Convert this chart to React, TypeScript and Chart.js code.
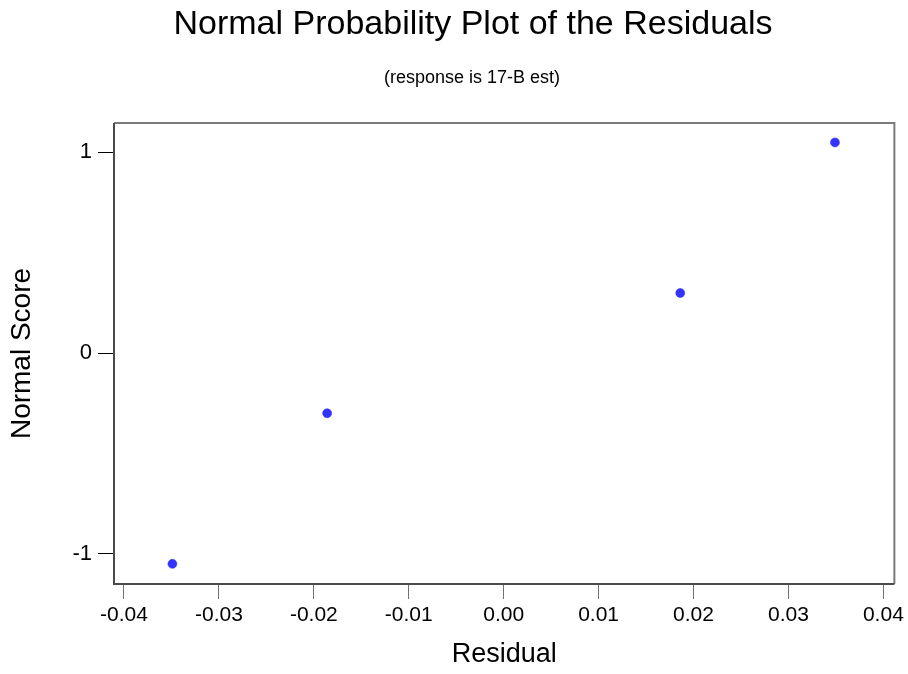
import React, { useEffect, useRef } from "react";
import { Chart, registerables } from "chart.js";

Chart.register(...registerables);

const residuals = [-0.0349, -0.0186, 0.0186, 0.0349];
const normalScores = [-1.0491, -0.2993, 0.2993, 1.0491];
const xTicks = [-0.04, -0.03, -0.02, -0.01, 0, 0.01, 0.02, 0.03, 0.04];
const yTicks = [-1, 0, 1];
const titleText = "Normal Probability Plot of the Residuals";
const subtitleText = "(response is 17-B est)";
const xTitle = "Residual";
const yTitle = "Normal Score";

const FONT = "'Liberation Sans', Arial, sans-serif";

const decorPlugin = {
  id: "decor",
  beforeDatasetsDraw(chart: any) {
    const { ctx, chartArea } = chart;
    const { left, right, top, bottom } = chartArea;
    ctx.save();
    ctx.lineWidth = 2;
    ctx.strokeStyle = "#7a7a7a";
    ctx.beginPath();
    ctx.moveTo(left, top);
    ctx.lineTo(right, top);
    ctx.lineTo(right, bottom);
    ctx.stroke();
    ctx.strokeStyle = "#4a4a4a";
    ctx.beginPath();
    ctx.moveTo(left, top);
    ctx.lineTo(left, bottom);
    ctx.lineTo(right, bottom);
    ctx.stroke();
    ctx.restore();
  },
  afterDraw(chart: any) {
    const { ctx } = chart;
    ctx.save();
    ctx.fillStyle = "#000";
    ctx.textAlign = "center";
    ctx.textBaseline = "alphabetic";
    ctx.font = `34px ${FONT}`;
    ctx.fillText(titleText, 473, 34);
    ctx.font = `18px ${FONT}`;
    ctx.fillText(subtitleText, 472, 83);
    ctx.restore();
  },
};

export default function App() {
  const ref = useRef<HTMLCanvasElement | null>(null);

  useEffect(() => {
    if (!ref.current) return;
    const chart = new Chart(ref.current, {
      type: "scatter",
      data: {
        datasets: [
          {
            data: residuals.map((r, i) => ({ x: r, y: normalScores[i] })),
            pointRadius: 4.5,
            pointBackgroundColor: "#3333ff",
            pointBorderColor: "#2a2ae0",
            pointBorderWidth: 0.5,
            showLine: false,
          },
        ],
      },
      options: {
        responsive: false,
        animation: false,
        devicePixelRatio: 1,
        layout: { padding: { top: 123, right: 13, left: 0, bottom: 0 } },
        plugins: {
          legend: { display: false },
          tooltip: { enabled: false },
          title: { display: false },
        },
        scales: {
          x: {
            type: "linear",
            position: "bottom",
            min: -0.041053,
            max: 0.041158,
            afterBuildTicks: (s: any) => {
              s.ticks = xTicks.map((v) => ({ value: v }));
            },
            afterFit: (s: any) => {
              s.height = 90;
            },
            grid: {
              display: true,
              drawOnChartArea: false,
              drawTicks: true,
              tickLength: 15,
              tickColor: "#707070",
              tickWidth: 1,
            },
            border: { display: false },
            ticks: {
              padding: 4,
              color: "#000",
              font: { family: FONT, size: 21 },
              maxRotation: 0,
              autoSkip: false,
              callback: (v: any) => Number(v).toFixed(2),
            },
            title: {
              display: true,
              text: xTitle,
              color: "#000",
              font: { family: FONT, size: 27 },
              padding: { top: 0, bottom: 3 },
            },
          },
          y: {
            type: "linear",
            position: "left",
            min: -1.1494,
            max: 1.1459,
            afterBuildTicks: (s: any) => {
              s.ticks = yTicks.map((v) => ({ value: v }));
            },
            afterFit: (s: any) => {
              s.width = 114;
            },
            grid: {
              display: true,
              drawOnChartArea: false,
              drawTicks: true,
              tickLength: 16,
              tickColor: "#000",
              tickWidth: 1,
            },
            border: { display: false },
            ticks: {
              padding: 6,
              color: "#000",
              font: { family: FONT, size: 22 },
              autoSkip: false,
              callback: (v: any) => String(v),
            },
            title: {
              display: true,
              text: yTitle,
              color: "#000",
              font: { family: FONT, size: 28 },
              padding: { top: 5, bottom: 0 },
            },
          },
        },
      },
      plugins: [decorPlugin],
    });
    return () => chart.destroy();
  }, []);

  return (
    <div style={{ position: "fixed", left: 0, top: 0, width: 908, height: 674, background: "#fff" }}>
      <canvas ref={ref} width={908} height={674} style={{ display: "block", width: 908, height: 674 }} />
    </div>
  );
}
